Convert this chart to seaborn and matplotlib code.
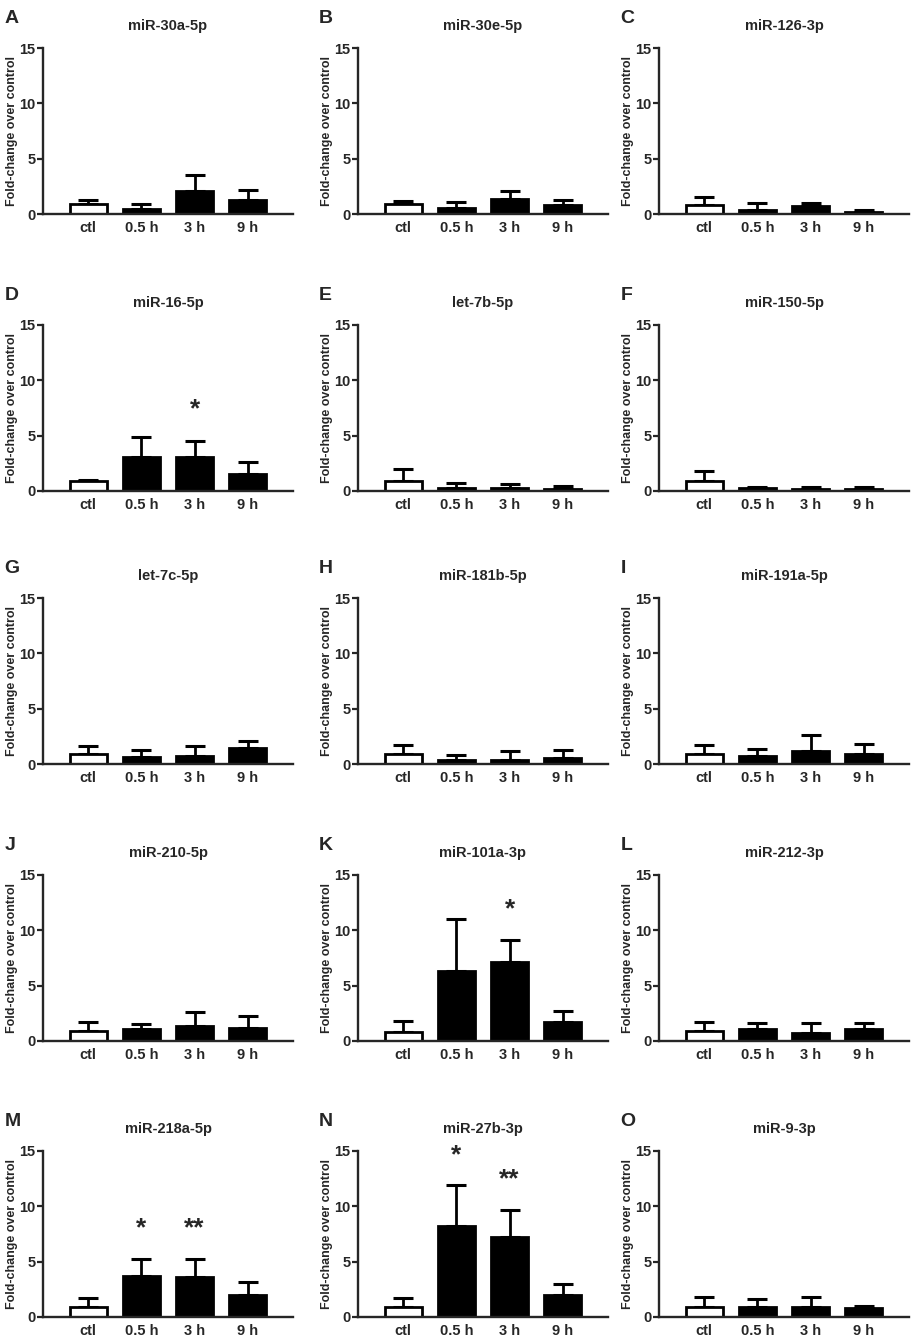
import numpy as np
import pandas as pd
import seaborn as sns
import matplotlib
matplotlib.use("Agg")
import matplotlib.pyplot as plt

# --- data ---------------------------------------------------------------
timepoints = ["ctl", "0.5 h", "3 h", "9 h"]
letters = list("ABCDEFGHIJKLMNO")
mirnas = [
    "miR-30a-5p", "miR-30e-5p", "miR-126-3p",
    "miR-16-5p", "let-7b-5p", "miR-150-5p",
    "let-7c-5p", "miR-181b-5p", "miR-191a-5p",
    "miR-210-5p", "miR-101a-3p", "miR-212-3p",
    "miR-218a-5p", "miR-27b-3p", "miR-9-3p",
]
means = [
    [0.9, 0.45, 2.1, 1.3],
    [0.9, 0.55, 1.4, 0.8],
    [0.85, 0.35, 0.75, 0.2],
    [0.9, 3.1, 3.1, 1.5],
    [0.9, 0.25, 0.3, 0.15],
    [0.9, 0.25, 0.2, 0.2],
    [0.9, 0.6, 0.75, 1.45],
    [0.9, 0.35, 0.4, 0.5],
    [0.9, 0.7, 1.2, 0.9],
    [0.9, 1.05, 1.4, 1.15],
    [0.85, 6.3, 7.15, 1.7],
    [0.9, 1.05, 0.7, 1.05],
    [0.9, 3.75, 3.6, 2.0],
    [0.9, 8.25, 7.2, 2.0],
    [0.9, 0.9, 0.9, 0.8],
]
# top of the error bar (mean + SEM)
err_top = [
    [1.3, 0.9, 3.5, 2.2],
    [1.2, 1.1, 2.1, 1.3],
    [1.55, 1.0, 0.95, 0.38],
    [1.0, 4.9, 4.5, 2.6],
    [2.0, 0.7, 0.6, 0.45],
    [1.8, 0.35, 0.35, 0.35],
    [1.65, 1.25, 1.65, 2.05],
    [1.75, 0.85, 1.15, 1.25],
    [1.75, 1.4, 2.65, 1.85],
    [1.7, 1.5, 2.6, 2.25],
    [1.8, 11.05, 9.15, 2.75],
    [1.75, 1.6, 1.6, 1.6],
    [1.75, 5.2, 5.2, 3.2],
    [1.75, 11.9, 9.7, 3.0],
    [1.85, 1.65, 1.8, 0.95],
]
star_panel = [3, 10, 12, 12, 13, 13]
star_group = [2, 2, 1, 2, 1, 2]
star_text = ["*", "*", "*", "**", "*", "**"]
star_height = [7.4, 11.9, 8.0, 8.0, 14.6, 12.4]

# --- style ---------------------------------------------------------------
sns.set_style("ticks")
plt.rcParams["font.family"] = ["Liberation Sans", "DejaVu Sans"]
plt.rcParams["font.weight"] = "bold"

fig = plt.figure(figsize=(9.14, 13.39), dpi=100)
W, H = 914, 1339
col_left = [43, 358, 659]
row_top = [48, 325, 598, 875, 1151]
ax_w, ax_h = 250, 166

bar_colors = ["white", "black", "black", "black"]

for i, name in enumerate(mirnas):
    row, col = divmod(i, 3)
    ax = fig.add_axes([col_left[col] / W, 1 - (row_top[row] + ax_h) / H,
                       ax_w / W, ax_h / H])
    df = pd.DataFrame({"time": timepoints, "fold": means[i]})
    sns.barplot(data=df, x="time", y="fold", hue="time", palette=bar_colors,
                edgecolor="black", linewidth=2.0, width=0.7, legend=False,
                ax=ax)
    m = np.array(means[i])
    up = np.array(err_top[i]) - m
    ax.errorbar(np.arange(len(timepoints)), m, yerr=[np.zeros_like(up), up],
                fmt="none", ecolor="black", elinewidth=2.0, capsize=7.5,
                capthick=2.2, zorder=0.5)

    ax.set_xlim(-0.85, 3.85)
    ax.set_ylim(0, 15)
    ax.set_yticks([0, 5, 10, 15])
    ax.set_xlabel("")
    ax.set_ylabel("Fold-change over control", fontsize=9,
                  fontweight="bold", labelpad=1)
    ax.set_title(name, fontsize=10.5, fontweight="bold", pad=13)
    sns.despine(ax=ax)
    for side in ["left", "bottom"]:
        ax.spines[side].set_linewidth(1.7)
    ax.tick_params(axis="x", length=0, pad=5, labelsize=10.5)
    ax.tick_params(axis="y", length=4, width=1.6, pad=1.5, labelsize=10.5)
    ax.text(-0.155, 1.18, letters[i], transform=ax.transAxes, fontsize=14,
            fontweight="bold", ha="left", va="center")

    for p, g, t, h in zip(star_panel, star_group, star_text, star_height):
        if p == i:
            ax.text(g, h, t, ha="center", va="center", fontsize=19,
                    fontweight="bold")

fig.savefig("out.png", dpi=100)
